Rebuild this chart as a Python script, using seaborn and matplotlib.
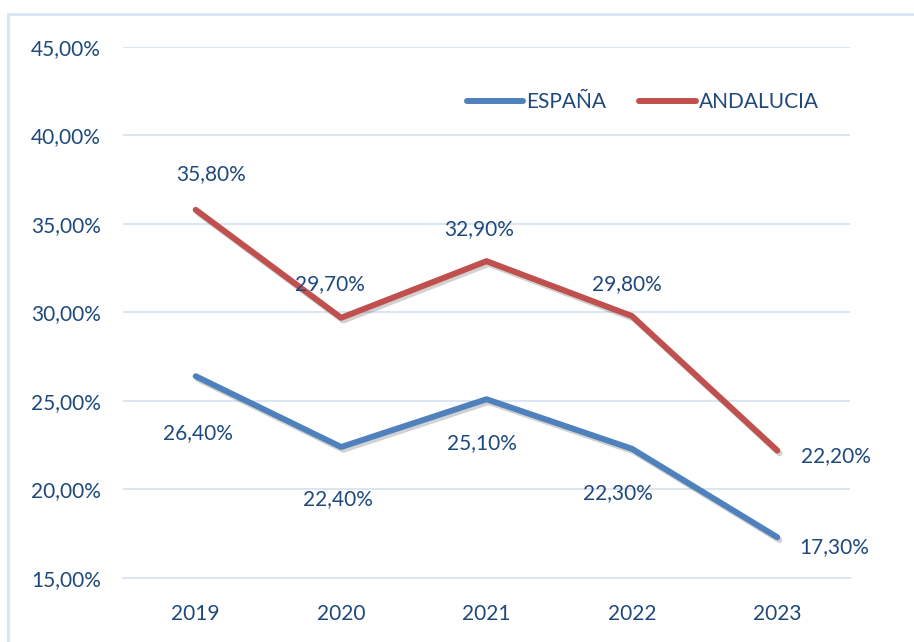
import numpy as np
import pandas as pd
import matplotlib
matplotlib.use("Agg")
import matplotlib.pyplot as plt
import matplotlib.patheffects as pe
from matplotlib.patches import Rectangle
from matplotlib.ticker import FuncFormatter
import seaborn as sns

# Datos
years = ["2019", "2020", "2021", "2022", "2023"]
espana = [26.4, 22.4, 25.1, 22.3, 17.3]
andalucia = [35.8, 29.7, 32.9, 29.8, 22.2]
series_names = ["ESPAÑA", "ANDALUCIA"]

# desplazamiento de las etiquetas (pixeles) para cada punto
esp_offsets = [(2, -57), (-3, -52), (-5, -44), (-14, -44), (57, -10)]
and_offsets = [(15, 36), (-11, 34), (-7, 32), (-5, 32), (59, -6)]

TEXT = "#1F497D"
GRID = "#D9E4F2"
COLORS = ["#4F81BD", "#C0504D"]
FS = 15

df = pd.DataFrame({
    "Año": years * 2,
    "Valor": espana + andalucia,
    "Serie": [series_names[0]] * len(years) + [series_names[1]] * len(years),
})

sns.set_theme(style="white")
plt.rcParams["font.family"] = ["Lato", "DejaVu Sans"]

fig = plt.figure(figsize=(9.14, 6.42), dpi=100)
ax = fig.add_axes([0.1346, 0.0997, 0.7954, 0.8271])

sns.lineplot(data=df, x="Año", y="Valor", hue="Serie", palette=COLORS,
             linewidth=4.3, ax=ax, sort=False,
             path_effects=[pe.SimpleLineShadow(offset=(1.5, -2), alpha=0.18,
                                               shadow_color="black"),
                           pe.Normal()])
for ln in ax.get_lines():
    ln.set_solid_capstyle("round")

# etiquetas de datos
for vals, offs in [(espana, esp_offsets), (andalucia, and_offsets)]:
    for i, (v, o) in enumerate(zip(vals, offs)):
        ax.annotate(f"{v:.2f}%".replace(".", ","), (i, v), xytext=o,
                    textcoords="offset pixels", ha="center", va="center",
                    fontsize=FS, color=TEXT)

ax.set_xlim(-0.5, len(years) - 0.5)
ax.set_ylim(15, 45)
ax.set_yticks(np.arange(15, 46, 5))
ax.yaxis.set_major_formatter(FuncFormatter(lambda v, p: f"{v:.2f}%".replace(".", ",")))
ax.grid(axis="y", color=GRID, linewidth=1.3)
ax.set_axisbelow(True)
for s in ["top", "right", "left"]:
    ax.spines[s].set_visible(False)
ax.spines["bottom"].set_color(GRID)
ax.spines["bottom"].set_linewidth(1.3)
ax.set_xticks(np.arange(-0.5, len(years), 1), minor=True)
ax.tick_params(axis="x", which="minor", length=7, width=1.3, color=GRID, direction="out")
ax.tick_params(axis="x", which="major", length=0, pad=19)
ax.tick_params(axis="y", length=0, pad=16)
ax.tick_params(labelsize=FS, labelcolor=TEXT)
ax.set_xlabel("")
ax.set_ylabel("")

leg = ax.legend(loc="center", bbox_to_anchor=(0.715, 0.896), ncol=2, frameon=False,
                handlelength=2.7, handletextpad=0.15, columnspacing=1.6,
                fontsize=FS)
for t in leg.get_texts():
    t.set_color(TEXT)
for h in leg.get_lines():
    h.set_linewidth(4.3)
    h.set_solid_capstyle("round")
    h.set_path_effects([])

# borde del grafico
fig.patches.append(Rectangle((8 / 914, -0.01), 1.0, 1 - 14 / 642 + 0.01,
                             transform=fig.transFigure, fill=False,
                             edgecolor=GRID, linewidth=2.0))

fig.savefig("out.png", dpi=100)
